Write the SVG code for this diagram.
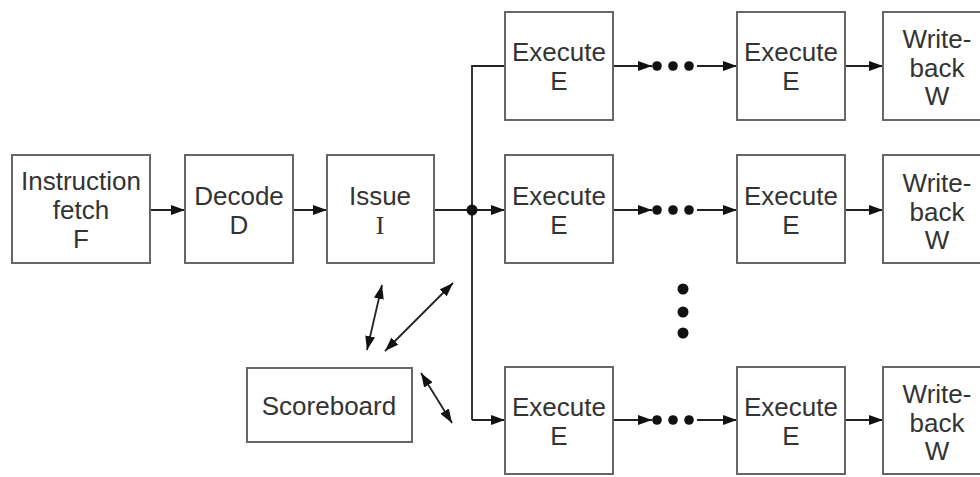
<svg xmlns="http://www.w3.org/2000/svg" width="980" height="477" viewBox="0 0 980 477">
  <style>
    .box { fill: #ffffff; stroke: #666666; stroke-width: 2; }
    .lbl { font-family: "Liberation Sans", Arial, sans-serif; font-size: 26px; fill: #333333; text-anchor: middle; }
    .serif { font-family: "Liberation Serif", "Times New Roman", serif; }
    .wire { fill: none; stroke: #222222; stroke-width: 1.8; }
    .dot { fill: #111111; }
  </style>
  <defs>
    <marker id="head" viewBox="0 0 14 10" refX="14" refY="5" markerWidth="14" markerHeight="10" markerUnits="userSpaceOnUse" orient="auto-start-reverse">
      <path d="M0,0 L14,5 L0,10 Z" fill="#111111"/>
    </marker>
  </defs>

  <rect width="980" height="477" fill="#ffffff"/>

  <!-- connectors -->
  <g id="connectors">
    <line class="wire" x1="150" y1="210" x2="185" y2="210" marker-end="url(#head)"/>
    <line class="wire" x1="293" y1="210" x2="327" y2="210" marker-end="url(#head)"/>
    <line class="wire" x1="434" y1="210" x2="472" y2="210"/>
    <!-- distribution bus -->
    <polyline class="wire" points="505,66 472,66 472,420"/>
    <line class="wire" x1="472" y1="210" x2="505" y2="210" marker-end="url(#head)"/>
    <line class="wire" x1="472" y1="420" x2="505" y2="420" marker-end="url(#head)"/>
    <circle class="dot" cx="472" cy="210" r="5.5"/>

    <!-- top pipeline -->
    <line class="wire" x1="613" y1="66" x2="652" y2="66" marker-end="url(#head)"/>
    <circle class="dot" cx="657" cy="66" r="4.8"/>
    <circle class="dot" cx="673" cy="66" r="4.8"/>
    <circle class="dot" cx="689" cy="66" r="4.8"/>
    <line class="wire" x1="697" y1="66" x2="737" y2="66" marker-end="url(#head)"/>
    <line class="wire" x1="845" y1="66" x2="883" y2="66" marker-end="url(#head)"/>

    <!-- middle pipeline -->
    <line class="wire" x1="613" y1="210" x2="652" y2="210" marker-end="url(#head)"/>
    <circle class="dot" cx="657" cy="210" r="4.8"/>
    <circle class="dot" cx="673" cy="210" r="4.8"/>
    <circle class="dot" cx="689" cy="210" r="4.8"/>
    <line class="wire" x1="697" y1="210" x2="737" y2="210" marker-end="url(#head)"/>
    <line class="wire" x1="845" y1="210" x2="883" y2="210" marker-end="url(#head)"/>

    <!-- bottom pipeline -->
    <line class="wire" x1="613" y1="420" x2="652" y2="420" marker-end="url(#head)"/>
    <circle class="dot" cx="657" cy="420" r="4.8"/>
    <circle class="dot" cx="673" cy="420" r="4.8"/>
    <circle class="dot" cx="689" cy="420" r="4.8"/>
    <line class="wire" x1="697" y1="420" x2="737" y2="420" marker-end="url(#head)"/>
    <line class="wire" x1="845" y1="420" x2="883" y2="420" marker-end="url(#head)"/>

    <!-- vertical ellipsis between pipelines -->
    <circle class="dot" cx="683" cy="289" r="5.5"/>
    <circle class="dot" cx="683" cy="312" r="5.5"/>
    <circle class="dot" cx="683" cy="333" r="5.5"/>

    <!-- scoreboard exchanges -->
    <line class="wire" x1="382" y1="285" x2="367" y2="350" marker-start="url(#head)" marker-end="url(#head)"/>
    <line class="wire" x1="453" y1="283" x2="385" y2="351" marker-start="url(#head)" marker-end="url(#head)"/>
    <line class="wire" x1="421" y1="373" x2="452" y2="423" marker-start="url(#head)" marker-end="url(#head)"/>
  </g>

  <!-- front end -->
  <g id="fetch">
    <rect class="box" x="12" y="155" width="138" height="108"/>
    <text class="lbl" x="81" y="190">Instruction</text>
    <text class="lbl" x="81" y="219">fetch</text>
    <text class="lbl" x="81" y="248">F</text>
  </g>
  <g id="decode">
    <rect class="box" x="185" y="155" width="108" height="108"/>
    <text class="lbl" x="239" y="205">Decode</text>
    <text class="lbl" x="239" y="234">D</text>
  </g>
  <g id="issue">
    <rect class="box" x="327" y="155" width="107" height="108"/>
    <text class="lbl" x="380" y="205">Issue</text>
    <text class="lbl serif" x="380" y="234">I</text>
  </g>
  <g id="scoreboard">
    <rect class="box" x="247" y="368" width="165" height="74"/>
    <text class="lbl" x="329" y="415">Scoreboard</text>
  </g>

  <!-- top pipeline -->
  <g id="exec-top-first">
    <rect class="box" x="505" y="12" width="108" height="108"/>
    <text class="lbl" x="559" y="61">Execute</text>
    <text class="lbl" x="559" y="90">E</text>
  </g>
  <g id="exec-top-last">
    <rect class="box" x="737" y="12" width="108" height="108"/>
    <text class="lbl" x="791" y="61">Execute</text>
    <text class="lbl" x="791" y="90">E</text>
  </g>
  <g id="wb-top">
    <rect class="box" x="883" y="12" width="108" height="108"/>
    <text class="lbl" x="937" y="48">Write-</text>
    <text class="lbl" x="937" y="77">back</text>
    <text class="lbl" x="937" y="105">W</text>
  </g>

  <!-- middle pipeline -->
  <g id="exec-mid-first">
    <rect class="box" x="505" y="155" width="108" height="108"/>
    <text class="lbl" x="559" y="205">Execute</text>
    <text class="lbl" x="559" y="234">E</text>
  </g>
  <g id="exec-mid-last">
    <rect class="box" x="737" y="155" width="108" height="108"/>
    <text class="lbl" x="791" y="205">Execute</text>
    <text class="lbl" x="791" y="234">E</text>
  </g>
  <g id="wb-mid">
    <rect class="box" x="883" y="155" width="108" height="108"/>
    <text class="lbl" x="937" y="192">Write-</text>
    <text class="lbl" x="937" y="221">back</text>
    <text class="lbl" x="937" y="249">W</text>
  </g>

  <!-- bottom pipeline -->
  <g id="exec-bot-first">
    <rect class="box" x="505" y="367" width="108" height="107"/>
    <text class="lbl" x="559" y="416">Execute</text>
    <text class="lbl" x="559" y="445">E</text>
  </g>
  <g id="exec-bot-last">
    <rect class="box" x="737" y="367" width="108" height="107"/>
    <text class="lbl" x="791" y="416">Execute</text>
    <text class="lbl" x="791" y="445">E</text>
  </g>
  <g id="wb-bot">
    <rect class="box" x="883" y="367" width="108" height="107"/>
    <text class="lbl" x="937" y="403">Write-</text>
    <text class="lbl" x="937" y="432">back</text>
    <text class="lbl" x="937" y="460">W</text>
  </g>
</svg>
